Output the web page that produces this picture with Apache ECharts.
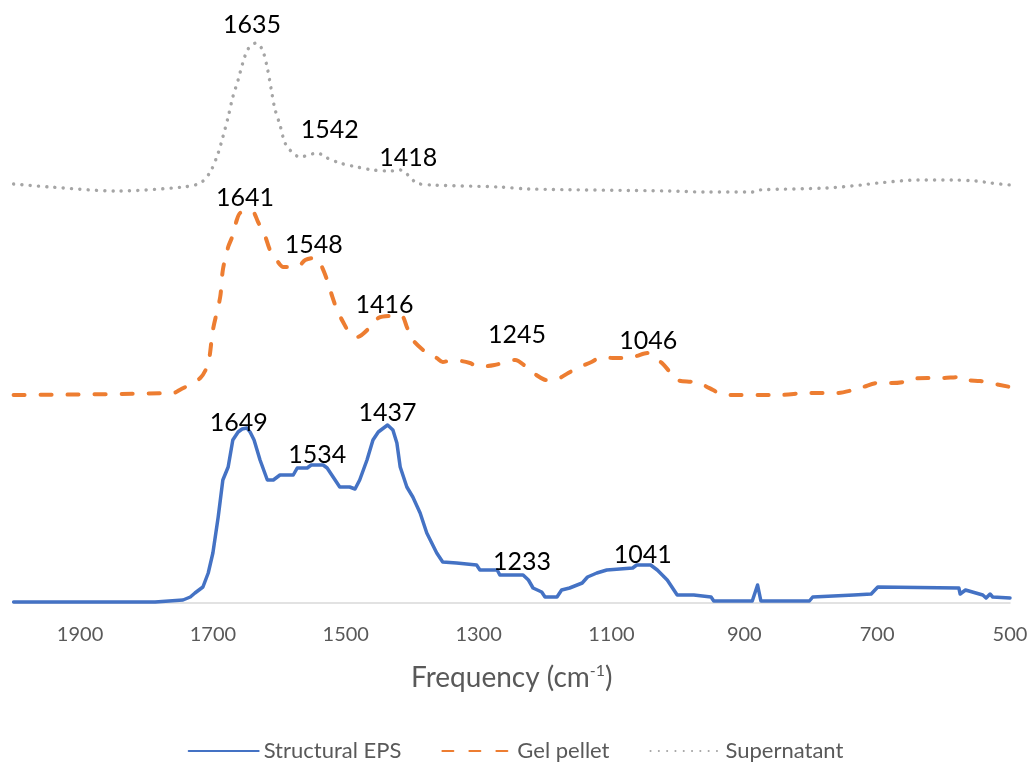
<!DOCTYPE html>
<html>
<head>
<meta charset="utf-8">
<title>FTIR spectra</title>
<script src="https://cdn.jsdelivr.net/npm/echarts@6/dist/echarts.min.js"></script>
<style>
  html, body { margin: 0; padding: 0; background: #fff; }
  #chart { width: 1031px; height: 762px; }
</style>
</head>
<body>
<div id="chart"></div>
<script>
// Wavenumber axis tick labels (cm-1), reversed axis
const tickLabels = [1900, 1700, 1500, 1300, 1100, 900, 700, 500];

// Series names
const seriesNames = ['Structural EPS', 'Gel pellet', 'Supernatant'];

// Spectra as [wavenumber, stacked absorbance (a.u.)]
const structuralEPS = [
  [2000,1],[1787,1],[1784,3],[1745,3],[1734,6],[1727,10],[1715,16],[1707,30],[1700,50],[1692,86],
  [1685,123],[1677,136],[1670,163],[1662,171],[1656,174],[1649,175],[1644,171],[1638,163],[1629,143],
  [1618,123],[1609,123],[1599,128],[1579,128],[1573,135],[1558,135],[1552,138],[1534,138],[1528,135],
  [1521,128],[1509,116],[1494,116],[1486,114],[1479,123],[1468,143],[1459,163],[1451,171],[1437,178],
  [1429,173],[1423,160],[1418,136],[1408,116],[1399,106],[1388,90],[1378,70],[1363,50],[1354,41],
  [1333,40],[1303,38],[1298,33],[1272,33],[1268,28],[1233,28],[1225,23],[1218,15],[1205,11],[1200,6],
  [1182,6],[1175,13],[1163,15],[1144,20],[1136,26],[1122,30],[1107,33],[1068,35],[1062,38],[1041,38],
  [1031,33],[1016,23],[1001,8],[976,8],[973,9],[950,6],[946,2],[888,2],[880,18],[875,2],[802,2],
  [797,6],[735,8],[709,9],[699,16],[577,15],[575,9],[567,13],[541,8],[536,5],[530,9],[526,6],[500,5]
];
const gelPellet = [
  [2000,208],[1760,210],[1750,213],[1719,225],[1707,240],[1700,273],[1689,306],[1685,333],[1677,356],
  [1671,366],[1664,383],[1659,390],[1649,391],[1641,392],[1632,381],[1621,366],[1614,353],[1602,341],
  [1594,336],[1573,336],[1561,343],[1548,345],[1539,340],[1528,323],[1521,308],[1513,293],[1504,281],
  [1494,270],[1483,266],[1463,276],[1451,285],[1433,287],[1416,287],[1408,276],[1399,263],[1378,250],
  [1363,245],[1354,241],[1339,243],[1313,240],[1301,236],[1276,238],[1258,241],[1245,243],[1228,236],
  [1213,228],[1198,223],[1181,224],[1165,230],[1148,236],[1130,241],[1115,246],[1098,245],[1073,245],
  [1062,247],[1046,250],[1035,245],[1024,240],[1012,231],[1001,223],[977,221],[962,218],[947,213],
  [932,208],[906,208],[846,208],[805,210],[760,210],[736,213],[721,216],[700,220],[680,220],[661,221],
  [650,224],[624,225],[605,225],[575,226],[565,223],[545,222],[530,220],[500,216]
];
const supernatant = [
  [2000,419],[1945,416],[1844,412],[1745,416],[1719,420],[1704,431],[1692,450],[1685,466],[1677,486],
  [1670,506],[1662,523],[1655,540],[1647,554],[1635,560],[1626,554],[1619,538],[1612,513],[1607,495],
  [1599,478],[1592,461],[1584,453],[1569,446],[1551,449],[1542,450],[1531,446],[1509,440],[1483,436],
  [1459,433],[1433,432],[1418,433],[1408,429],[1393,420],[1369,418],[1268,416],[1224,414],[1012,412],
  [961,411],[888,411],[878,413],[776,415],[724,418],[699,420],[638,423],[587,423],[551,422],[529,420],
  [500,418]
];

// Band positions annotated on each spectrum
const structuralPeaks = [1649, 1534, 1437, 1233, 1041];
const gelPeaks = [1641, 1548, 1416, 1245, 1046];
const supernatantPeaks = [1635, 1542, 1418];

// Hand-placed nudges (px) for individual band labels, per series
const structuralNudge = { 1649: [-8, 8], 1534: [-6, 3], 1437: [0, 1], 1233: [-1, 0], 1041: [-8, 3] };
const gelNudge = { 1641: [-7, 0], 1548: [0, 0], 1416: [-17, 2], 1245: [2, -12], 1046: [1, 1] };
const supernatantNudge = { 1635: [-4, -5], 1542: [12, -10], 1418: [8, 1] };

// Band labels sit just above the spectrum point at each annotated wavenumber
function peakMarks(points, peaks, nudge) {
  return peaks.map(function (f) {
    const p = points.find(function (q) { return q[0] === f; });
    return { coord: p, value: f, label: { offset: nudge[f] || [0, 0] } };
  });
}

function lineSeries(name, points, peaks, nudge, lineStyle, z, smooth) {
  return {
    name: name,
    type: 'line',
    symbol: 'none',
    smooth: smooth,
    data: points,
    lineStyle: lineStyle,
    itemStyle: { color: lineStyle.color },
    emphasis: { disabled: true },
    markPoint: {
      symbol: 'circle',
      symbolSize: 1,
      itemStyle: { color: 'rgba(0,0,0,0)' },
      silent: true,
      label: {
        show: true,
        position: 'top',
        distance: 0,
        color: '#000',
        fontFamily: 'Lato',
        fontSize: 25,
        formatter: function (p) { return String(p.value); }
      },
      data: peakMarks(points, peaks, nudge)
    },
    z: z
  };
}

const chart = echarts.init(document.getElementById('chart'), null, { renderer: 'canvas' });

chart.setOption({
  animation: false,
  backgroundColor: '#fff',
  grid: { left: 13.6, right: 21, top: 23, bottom: 159, containLabel: false, outerBoundsMode: 'none' },
  xAxis: {
    type: 'value',
    inverse: true,
    min: 500,
    max: 2000,
    interval: 200,
    axisLine: { show: true, onZero: false, lineStyle: { color: '#D9D9D9', width: 1.5 } },
    axisTick: { show: false },
    splitLine: { show: false },
    axisLabel: {
      color: '#595959',
      fontFamily: 'Lato',
      fontSize: 20,
      margin: 22,
      showMaxLabel: false,
      formatter: function (v) { return tickLabels.indexOf(v) >= 0 ? String(v) : ''; }
    },
    name: 'Frequency (cm{sup|-1})',
    nameLocation: 'middle',
    nameGap: 60,
    nameTextStyle: {
      color: '#595959',
      fontFamily: 'Lato',
      fontSize: 28,
      rich: {
        sup: { fontFamily: 'Lato', fontSize: 16, color: '#595959', verticalAlign: 'top', padding: [0, 0, 14, 0] }
      }
    }
  },
  yAxis: { type: 'value', min: 0, max: 580, show: false },
  legend: {
    top: 735,
    left: 'center',
    itemWidth: 70,
    itemHeight: 14,
    itemGap: 40,
    itemStyle: { opacity: 0 },
    textStyle: { color: '#595959', fontFamily: 'Lato', fontSize: 22 },
    data: seriesNames
  },
  tooltip: { show: false },
  series: [
    lineSeries(seriesNames[0], structuralEPS, structuralPeaks, structuralNudge,
      { color: '#4472C4', width: 3.5, join: 'round', cap: 'round' }, 4, false),
    lineSeries(seriesNames[1], gelPellet, gelPeaks, gelNudge,
      { color: '#ED7D31', width: 4, type: [11, 16], cap: 'round', join: 'round' }, 3, 0.3),
    lineSeries(seriesNames[2], supernatant, supernatantPeaks, supernatantNudge,
      { color: '#A5A5A5', width: 3.4, type: [0.1, 8.2], cap: 'round' }, 2, 0.3)
  ]
});
</script>
</body>
</html>
